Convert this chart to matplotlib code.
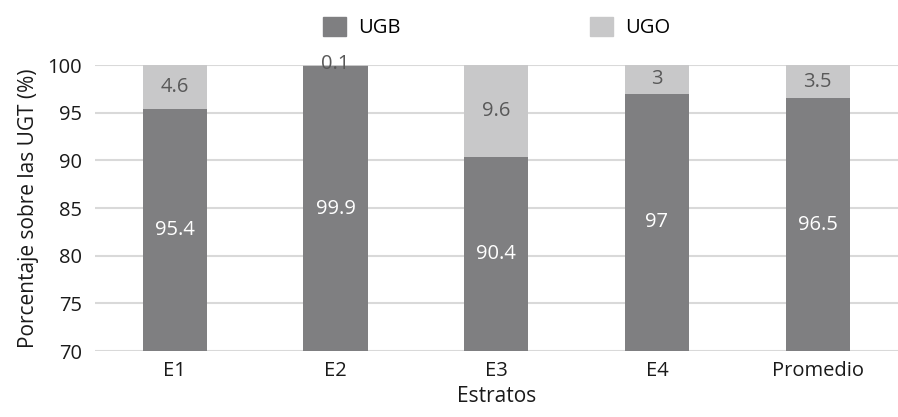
import matplotlib
matplotlib.use("Agg")
import matplotlib.pyplot as plt
from matplotlib.patches import Patch

plt.rcParams['font.family'] = ['Open Sans', 'DejaVu Sans']

categories = ["E1", "E2", "E3", "E4", "Promedio"]
ugb = [95.4, 99.9, 90.4, 97, 96.5]
ugo = [4.6, 0.1, 9.6, 3, 3.5]
ugb_labels = ["95.4", "99.9", "90.4", "97", "96.5"]
ugo_labels = ["4.6", "0.1", "9.6", "3", "3.5"]

c_ugb = "#7f7f81"
c_ugo = "#c8c8c9"
fs = 14.5

fig = plt.figure(figsize=(8.98, 4.17), dpi=100)
ax = fig.add_axes([0.1053, 0.158, 0.8947, 0.686])

x = list(range(len(categories)))
ymin = 70
ax.bar(x, [v - ymin for v in ugb], bottom=ymin, width=0.4, color=c_ugb, zorder=3)
ax.bar(x, ugo, bottom=ugb, width=0.4, color=c_ugo, zorder=3)

for i in x:
    ax.text(i, (ymin + ugb[i]) / 2, ugb_labels[i], ha='center', va='center',
            color='white', fontsize=fs, zorder=4)
    top = ugb[i] + ugo[i]
    ax.text(i, (ugb[i] + top) / 2 if ugo[i] > 0.5 else top + 0.1, ugo_labels[i],
            ha='center', va='center', color='#595959', fontsize=fs, zorder=4)

ax.set_xlim(-0.5, len(categories) - 0.5)
ax.set_ylim(70, 100)
ax.set_yticks([70, 75, 80, 85, 90, 95, 100])
ax.set_xticks(x)
ax.set_xticklabels(categories)
ax.tick_params(axis='both', length=0, labelsize=fs, colors='#1a1a1a')
ax.tick_params(axis='y', pad=9)
ax.tick_params(axis='x', pad=7)
ax.yaxis.grid(True, color='#d9d9d9', linewidth=1.5, zorder=0)
ax.set_axisbelow(True)
for s in ax.spines.values():
    s.set_visible(False)
ax.set_ylabel("Porcentaje sobre las UGT (%)", fontsize=fs + 0.5, color='#1a1a1a', labelpad=6)
ax.set_xlabel("Estratos", fontsize=fs + 0.5, color='#1a1a1a', labelpad=4)

handles = [Patch(color=c_ugb, label="UGB"), Patch(color=c_ugo, label="UGO")]
fig.legend(handles=handles, loc='upper center', bbox_to_anchor=(0.553, 1.003), ncol=2,
           frameon=False, fontsize=fs, columnspacing=9.45, handlelength=1.1,
           handleheight=1.1, handletextpad=0.6)

fig.savefig("out.png", dpi=100)
